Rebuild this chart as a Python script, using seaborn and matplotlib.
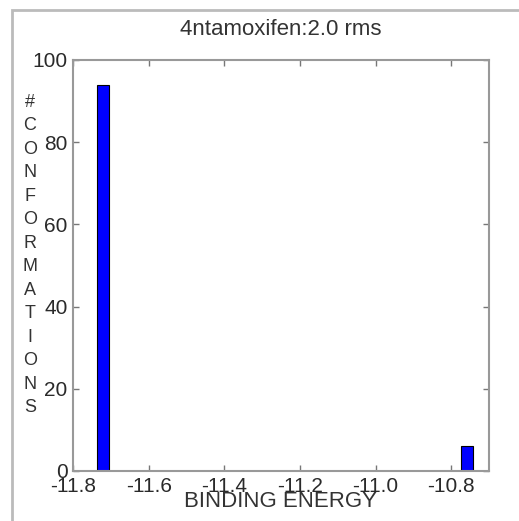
import numpy as np
import pandas as pd
import seaborn as sns
import matplotlib.pyplot as plt
from matplotlib.patches import Rectangle

# binding energy of each cluster and number of conformations in it
energy = [-11.72, -10.758]
count = [94, 6]
xticks = [-11.8, -11.6, -11.4, -11.2, -11.0, -10.8]
yticks = [0, 20, 40, 60, 80, 100]

df = pd.DataFrame({'energy': energy, 'count': count})

sns.set_style('white')
plt.rcParams['font.family'] = ['Liberation Sans', 'DejaVu Sans']

fig = plt.figure(figsize=(5.19, 5.21), dpi=100)
ax = fig.add_axes([73 / 519, 50 / 521, 416 / 519, 411 / 521])

sns.histplot(data=df, x='energy', weights='count', bins=31,
             binrange=(-11.737, -10.742), color='#0000ff', alpha=1,
             edgecolor='black', linewidth=0.8, ax=ax)

ax.set_xlim(-11.8, -10.7)
ax.set_ylim(0, 100)
ax.set_xticks(xticks)
ax.set_xticklabels(['%.1f' % t for t in xticks])
ax.set_yticks(yticks)
ax.tick_params(direction='in', length=4, width=1, color='#777777',
               labelsize=15, labelcolor='#2a2a2a', pad=4,
               top=True, right=True, bottom=True, left=True)
for s in ax.spines.values():
    s.set_color('#999999')
    s.set_linewidth(1.5)

ax.set_ylabel('')
ax.set_xlabel('BINDING ENERGY', fontsize=16, color='#333333', labelpad=-3)
ax.set_title('4ntamoxifen:2.0 rms', fontsize=16, color='#333333', pad=18)

fig.text(30 / 519, 1 - 255 / 521, '\n'.join('#CONFORMATIONS'), fontsize=13,
         color='#333333', ha='center', va='center', linespacing=1.5)

# screenshot frame
fig.patches.append(Rectangle((12 / 519, -0.01), 1.1, 1 - 10 / 521 + 0.01,
                             transform=fig.transFigure, fill=False,
                             edgecolor='#bbbbbb', linewidth=2))

fig.savefig('out.png', dpi=100)
